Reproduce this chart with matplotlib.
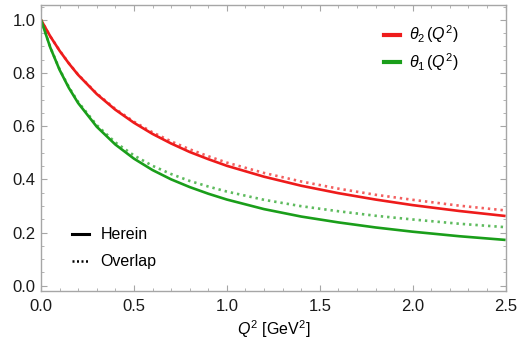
import matplotlib
matplotlib.use("Agg")
import matplotlib.pyplot as plt
from matplotlib.ticker import MultipleLocator
from matplotlib.lines import Line2D

plt.rcParams['font.family'] = ['Liberation Sans', 'DejaVu Sans']
plt.rcParams['mathtext.fontset'] = 'custom'
plt.rcParams['mathtext.rm'] = 'Liberation Sans'
plt.rcParams['mathtext.it'] = 'Liberation Sans:italic'

# Q^2 grid [GeV^2]
q2 = [0.0, 0.05, 0.1, 0.15, 0.2, 0.3, 0.4, 0.5, 0.6, 0.7, 0.8, 0.9, 1.0,
      1.2, 1.4, 1.6, 1.8, 2.0, 2.25, 2.5]

# theta_2(Q^2): this work and overlap result
theta2_herein = [1.0, 0.938, 0.884, 0.836, 0.793, 0.721, 0.662, 0.613, 0.571, 0.535,
                 0.503, 0.476, 0.451, 0.410, 0.376, 0.348, 0.324, 0.303, 0.281, 0.262]
theta2_overlap = [1.0, 0.938, 0.885, 0.837, 0.794, 0.723, 0.665, 0.617, 0.577, 0.543,
                  0.513, 0.487, 0.463, 0.424, 0.392, 0.365, 0.342, 0.323, 0.301, 0.283]

# theta_1(Q^2): this work and overlap result
theta1_herein = [1.0, 0.896, 0.812, 0.744, 0.687, 0.598, 0.531, 0.478, 0.435, 0.400,
                 0.371, 0.346, 0.324, 0.288, 0.260, 0.238, 0.219, 0.203, 0.186, 0.172]
theta1_overlap = [1.0, 0.897, 0.814, 0.747, 0.691, 0.604, 0.539, 0.490, 0.451, 0.420,
                  0.394, 0.373, 0.354, 0.323, 0.299, 0.280, 0.263, 0.249, 0.233, 0.220]

RED = '#ee1b1b'
GREEN = '#1a9e1a'
FRAME = '#a6a6a6'

fig = plt.figure(figsize=(5.17, 3.41), dpi=100)
ax = fig.add_axes([0.0793, 0.1475, 0.8987, 0.8378])

lw = 1.9
dot = (0, (0.9, 1.5))
ax.plot(q2, theta2_overlap, color=RED, lw=lw, ls=dot, alpha=0.7)
ax.plot(q2, theta1_overlap, color=GREEN, lw=lw, ls=dot, alpha=0.7)
ax.plot(q2, theta2_herein, color=RED, lw=lw, solid_capstyle='butt')
ax.plot(q2, theta1_herein, color=GREEN, lw=lw, solid_capstyle='butt')

ax.set_xlim(0, 2.5)
ax.set_ylim(-0.019, 1.056)

ax.xaxis.set_major_locator(MultipleLocator(0.5))
ax.xaxis.set_minor_locator(MultipleLocator(0.1))
ax.yaxis.set_major_locator(MultipleLocator(0.2))
ax.yaxis.set_minor_locator(MultipleLocator(0.05))
ax.xaxis.set_major_formatter(plt.FuncFormatter(lambda v, p: f"{v:.1f}"))
ax.yaxis.set_major_formatter(plt.FuncFormatter(lambda v, p: f"{v:.1f}"))

for s in ax.spines.values():
    s.set_color(FRAME)
    s.set_linewidth(1.0)
ax.tick_params(which='both', direction='in', top=True, right=True, color=FRAME,
               labelsize=12, labelcolor='#1a1a1a')
ax.tick_params(which='major', length=4.5, width=0.8)
ax.tick_params(axis='x', which='major', pad=6)
ax.tick_params(axis='y', which='major', pad=4)
ax.tick_params(which='minor', length=2.5, width=0.6)

ax.set_xlabel(r'$Q^2$ [GeV$^2$]', fontsize=11.5, labelpad=3)

# series legend (top right)
h_red = Line2D([], [], color=RED, lw=3)
h_green = Line2D([], [], color=GREEN, lw=3)
leg1 = ax.legend([h_red, h_green],
                 [r'$\theta_2\,(Q^2)$', r'$\theta_1\,(Q^2)$'],
                 loc='upper right', bbox_to_anchor=(0.93, 0.985), frameon=False,
                 fontsize=11.5, handlelength=1.0, handletextpad=0.6, labelspacing=0.35)
ax.add_artist(leg1)

# line style legend (bottom left)
h_solid = Line2D([], [], color='black', lw=2.2)
h_dot = Line2D([], [], color='black', lw=1.8, ls=(0, (0.8, 1.0)))
ax.legend([h_solid, h_dot], ['Herein', 'Overlap'], loc='lower left',
          bbox_to_anchor=(0.035, 0.025), frameon=False, fontsize=11.5,
          handlelength=1.1, handletextpad=0.7, labelspacing=0.75)

fig.savefig('out.png', dpi=100)
